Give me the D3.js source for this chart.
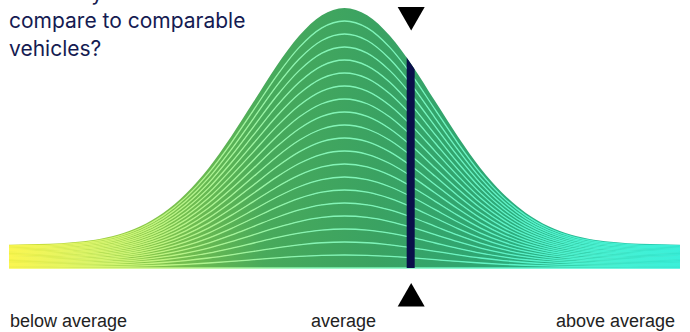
<!doctype html>
<html lang="en">
<head>
    <meta charset="UTF-8">
    <title>Price comparison</title>
    <style>
        body { margin: 0; background: #fff; }
        svg { display: block; }
    </style>
</head>
<body>
    <svg width="690" height="332"></svg>
    <script src="https://cdn.jsdelivr.net/npm/d3@7"></script>
    <script>
        // z-score positions along the curve and the thickness of one band there
        const zScores = [-3.7, -3.5, -3.25, -3, -2.75, -2.5, -2.25, -2, -1.75, -1.5, -1.25, -1, -0.75, -0.5, -0.25,
            0, 0.25, 0.5, 0.75, 1, 1.25, 1.5, 1.75, 2, 2.25, 2.5, 2.75, 3, 3.25, 3.5, 3.7]
        const bandThickness = [0.089, 0.091, 0.093, 0.099, 0.109, 0.128, 0.161, 0.212, 0.286, 0.384, 0.506, 0.641, 0.777, 0.893, 0.972,
            1.0, 0.972, 0.893, 0.777, 0.641, 0.506, 0.384, 0.286, 0.212, 0.161, 0.128, 0.109, 0.099, 0.093, 0.091, 0.089]
        const bandCount = 20
        const yourValue = 0.73
        const axisLabels = ['below average', 'average', 'above average']
        const axisLabelZ = [-3.7, 0, 3.7]
        const titleLines = ['How do you', 'compare to comparable', 'vehicles?']

        const svg = d3.select('svg')
        const x = d3.scaleLinear().domain([-3.7, 3.7]).range([9, 680])
        const y = d3.scaleLinear().domain([0, bandCount]).range([268, 8])

        const rows = zScores.map((z, i) => ({z: z, t: bandThickness[i]}))
        const series = d3.stack()
            .keys(d3.range(bandCount))
            .value(d => d.t)(rows)

        const defs = svg.append('defs')
        function gradient(id, stops) {
            const g = defs.append('linearGradient')
                .attr('id', id)
                .attr('gradientUnits', 'userSpaceOnUse')
                .attr('x1', x.range()[0]).attr('x2', x.range()[1])
                .attr('y1', 0).attr('y2', 0)
            g.selectAll('stop').data(stops).enter().append('stop')
                .attr('offset', d => d[0])
                .attr('stop-color', d => d[1])
        }
        gradient('fillGrad', [[0, '#cddc2a'], [0.18, '#8fca46'], [0.38, '#48aa5b'], [0.55, '#3aa262'],
            [0.7, '#2fa672'], [0.85, '#25b992'], [1, '#1ec9ad']])
        gradient('lineGrad', [[0, '#fbf650'], [0.2, '#c6f47a'], [0.45, '#86f4b4'], [0.6, '#78f4bc'],
            [0.8, '#52f2cc'], [1, '#3af0da']])

        const area = d3.area()
            .x(d => x(d.data.z))
            .y0(d => y(d[0]))
            .y1(d => y(d[1]))
            .curve(d3.curveMonotoneX)

        const topBand = series[series.length - 1]
        defs.append('clipPath').attr('id', 'curveClip')
            .append('path')
            .attr('d', d3.area()
                .x(d => x(d.data.z))
                .y0(y(0))
                .y1(d => y(d[1]))
                .curve(d3.curveMonotoneX)(topBand))

        svg.append('g')
            .selectAll('path')
            .data(series)
            .enter()
            .append('path')
            .attr('d', area)
            .attr('fill', 'url(#fillGrad)')

        const line = d3.line()
            .x(d => x(d.data.z))
            .y(d => y(d[0]))
            .curve(d3.curveMonotoneX)

        svg.append('g')
            .selectAll('path')
            .data(series)
            .enter()
            .append('path')
            .attr('d', line)
            .attr('fill', 'none')
            .attr('stroke', 'url(#lineGrad)')
            .attr('stroke-width', 1.3)

        // marker bar for this vehicle
        svg.append('rect')
            .attr('clip-path', 'url(#curveClip)')
            .attr('x', x(yourValue) - 4)
            .attr('width', 8)
            .attr('y', 0)
            .attr('height', y(0))
            .attr('fill', '#0a0f4a')

        const tri = d3.symbol().type(d3.symbolTriangle).size(316)
        svg.append('path')
            .attr('d', tri)
            .attr('transform', `translate(${x(yourValue) + 0.5},14.8) rotate(180)`)
            .attr('fill', '#000')
        svg.append('path')
            .attr('d', tri)
            .attr('transform', `translate(${x(yourValue) + 0.5},298.6)`)
            .attr('fill', '#000')

        svg.append('g')
            .selectAll('text')
            .data(axisLabels)
            .enter()
            .append('text')
            .attr('x', (d, i) => x(axisLabelZ[i]) + [1, -1, -5][i])
            .attr('y', 327)
            .attr('text-anchor', (d, i) => ['start', 'middle', 'end'][i])
            .attr('font-family', 'Liberation Sans, Arial, sans-serif')
            .attr('font-size', 18)
            .attr('fill', '#222')
            .text(d => d)

        svg.append('g')
            .selectAll('text')
            .data(titleLines)
            .enter()
            .append('text')
            .attr('x', 9)
            .attr('y', (d, i) => -0.5 + i * 28.3)
            .attr('font-family', 'Inter, sans-serif')
            .attr('font-size', 21)
            .attr('fill', '#151b52')
            .text(d => d)
    </script>
</body>
</html>
